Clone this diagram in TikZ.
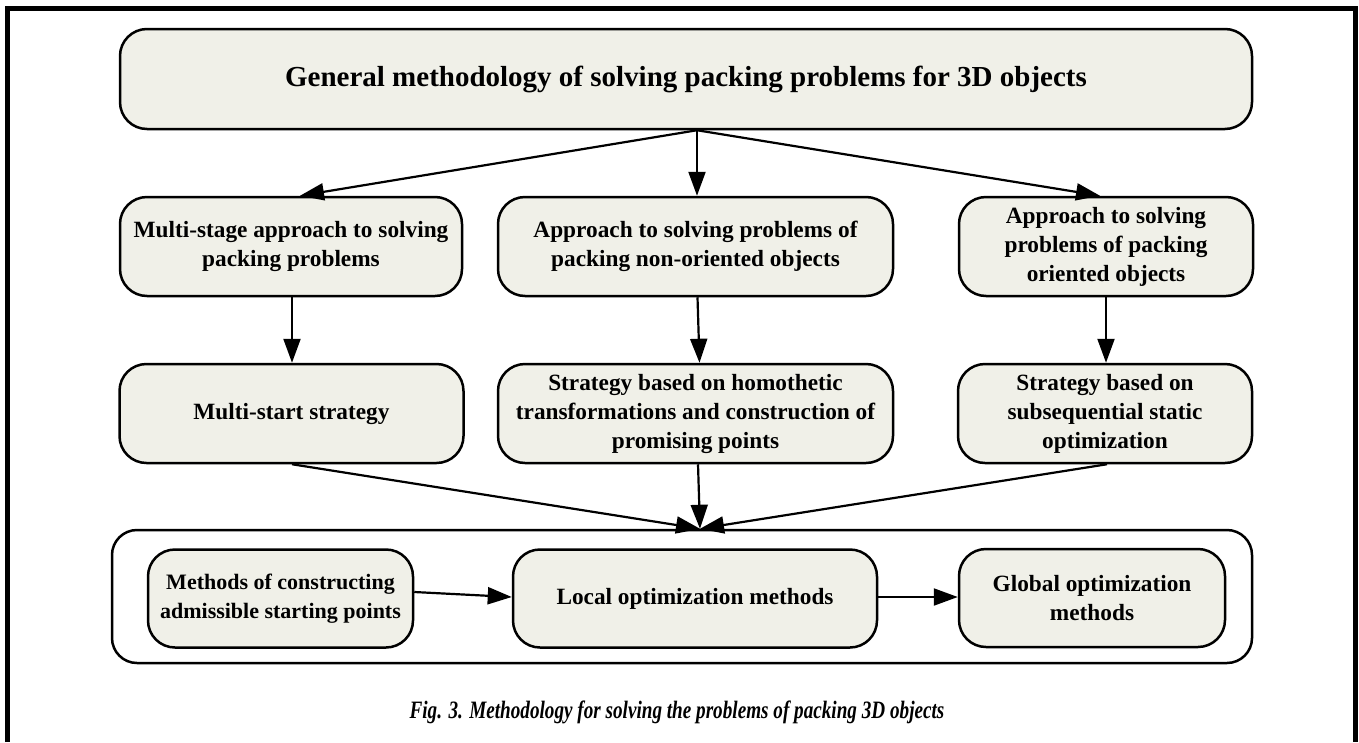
\documentclass[tikz,border=0pt]{standalone}
\usepackage{fontspec}
\setmainfont{Liberation Serif}
\usetikzlibrary{arrows.meta,calc}
\definecolor{boxfill}{RGB}{240,240,232}
\begin{document}
\begin{tikzpicture}[x=1pt,y=-1pt,
  box/.style={draw=black,line width=2.5pt,fill=boxfill,rounded corners=27pt,
    inner sep=0pt,align=center,font=\fontsize{23.3}{29}\selectfont\bfseries},
  cont/.style={draw=black,line width=2.5pt,rounded corners=25pt,inner sep=0pt},
  arr/.style={line width=2.2pt,-{Triangle[length=24pt,width=17pt]}}]
\useasboundingbox (0,0) rectangle (1359,742);
\draw[line width=4.5pt] (7.5,742) -- (7.5,8.5) -- (1355.5,8.5) -- (1355.5,742);

\node[box,minimum width=1132pt,minimum height=100pt,font=\fontsize{29}{35}\selectfont\bfseries] (top) at (686,79)
  {General methodology of solving packing problems for 3D objects};

\node[box,minimum width=342pt,minimum height=99pt] (a2) at (291,246.5)
  {Multi-stage approach to solving\\packing problems};
\node[box,minimum width=395pt,minimum height=99pt] (b2) at (695.5,246.5)
  {Approach to solving problems of\\packing non-oriented objects};
\node[box,minimum width=294pt,minimum height=99pt] (c2) at (1106,246.5)
  {Approach to solving\\problems of packing\\oriented objects};

\node[box,minimum width=344pt,minimum height=99pt] (a3) at (291.5,413.5)
  {Multi-start strategy};
\node[box,minimum width=395pt,minimum height=99pt] (b3) at (695.5,413.5)
  {Strategy based on homothetic\\transformations and construction of\\promising points};
\node[box,minimum width=294pt,minimum height=99pt] (c3) at (1105,413.5)
  {Strategy based on\\subsequential static\\optimization};

\node[cont,minimum width=1140pt,minimum height=133pt] (ct) at (682,596.5) {};

\node[box,minimum width=265pt,minimum height=98pt,font=\fontsize{22}{29}\selectfont\bfseries] (m) at (280.5,598.5)
  {Methods of constructing\\admissible starting points};
\node[box,minimum width=364pt,minimum height=98pt] (l) at (695,598.5)
  {Local optimization methods};
\node[box,minimum width=266pt,minimum height=98pt] (g) at (1092,598)
  {Global optimization\\methods};

\coordinate (o) at ($(top.south)+(11,0)$);
\draw[arr] (o) -- ($(a2.north)+(9,0)$);
\draw[arr] (o) -- (o |- b2.north);
\draw[arr] (o) -- ($(c2.north)+(-6,0)$);

\draw[arr] ($(a2.south)+(1,0)$) -- ($(a3.north)+(0.5,0)$);
\draw[arr] ($(b2.south)+(2,0)$) -- ($(b3.north)+(4,0)$);
\draw[arr] (c2.south) -- ($(c3.north)+(1,0)$);

\coordinate (j) at ($(ct.north)+(18,0)$);
\draw[arr] ($(a3.south)+(0.5,0)$) -- (j);
\draw[arr] ($(b3.south)+(2.5,0)$) -- (j);
\draw[arr] ($(c3.south)+(2,0)$) -- (j);

\draw[arr] ($(m.east)+(0,-6.5)$) -- ($(l.west)+(0,-1.5)$);
\draw[arr] ($(l.east)+(0,-1.5)$) -- ($(g.west)+(0,-1)$);

\node[inner sep=0pt,font=\fontsize{25}{29}\selectfont\bfseries\itshape] (cap) at (677,712)
  {\scalebox{0.767}[1]{Fig. 3. Methodology for solving the problems of packing 3D objects}};
\end{tikzpicture}
\end{document}
